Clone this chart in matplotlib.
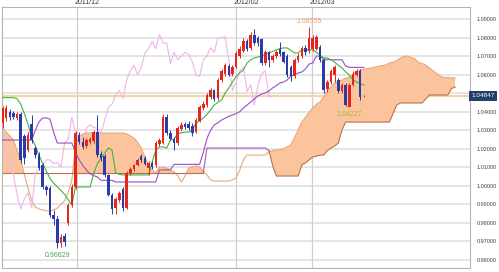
import matplotlib
matplotlib.use("Agg")
import matplotlib.pyplot as plt
import matplotlib.transforms as mtransforms
import numpy as np

plt.rcParams['font.family'] = ['Liberation Sans', 'DejaVu Sans']

# ---------------- data ----------------
opens = [1.0339, 1.0366, 1.0398, 1.0393, 1.0366, 1.0388, 1.0270, 1.0193, 1.0333, 1.0204,
         1.0166, 1.0113, 0.9995, 0.9989, 0.9843, 0.9821, 0.9692, 0.9730, 0.9800, 0.9897,
         0.9994, 1.0274, 1.0236, 1.0215, 1.0235, 1.0240, 1.0290, 1.0170, 1.0160, 1.0059,
         0.9951, 0.9880, 0.9925, 0.9985, 0.9880, 1.0070, 1.0090, 1.0115, 1.0160, 1.0150,
         1.0095, 1.0125, 1.0110, 1.0225, 1.0231, 1.0370, 1.0285, 1.0255, 1.0230, 1.0305,
         1.0335, 1.0335, 1.0325, 1.0290, 1.0350, 1.0420, 1.0435, 1.0480, 1.0515, 1.0475,
         1.0570, 1.0605, 1.0645, 1.0605, 1.0640, 1.0700, 1.0730, 1.0780, 1.0745, 1.0815,
         1.0800, 1.0790, 1.0660, 1.0720, 1.0680, 1.0700, 1.0740, 1.0720, 1.0700, 1.0640,
         1.0590, 1.0680, 1.0700, 1.0745, 1.0725, 1.0740, 1.0740, 1.0750, 1.0680, 1.0525,
         1.0560, 1.0600, 1.0570, 1.0510, 1.0544, 1.0426, 1.0545, 1.0600, 1.0620, 1.0482]
highs = [1.0431, 1.0436, 1.0415, 1.0405, 1.0400, 1.0400, 1.0280, 1.0290, 1.0382, 1.0215,
         1.0180, 1.0125, 1.0005, 1.0000, 0.9870, 0.9835, 0.9740, 0.9745, 0.9910, 1.0010,
         1.0295, 1.0290, 1.0265, 1.0260, 1.0265, 1.0300, 1.0382, 1.0190, 1.0170, 1.0065,
         0.9960, 0.9940, 0.9970, 0.9995, 1.0080, 1.0100, 1.0120, 1.0150, 1.0170, 1.0160,
         1.0135, 1.0135, 1.0240, 1.0260, 1.0390, 1.0385, 1.0300, 1.0265, 1.0325, 1.0345,
         1.0345, 1.0350, 1.0340, 1.0365, 1.0435, 1.0455, 1.0500, 1.0530, 1.0525, 1.0580,
         1.0630, 1.0665, 1.0655, 1.0650, 1.0725, 1.0755, 1.0795, 1.0790, 1.0830, 1.0845,
         1.0810, 1.0800, 1.0735, 1.0730, 1.0712, 1.0735, 1.0775, 1.0730, 1.0710, 1.0650,
         1.0690, 1.0715, 1.0755, 1.0760, 1.08555, 1.0815, 1.0815, 1.0760, 1.0690, 1.0570,
         1.0630, 1.0650, 1.0580, 1.0555, 1.0555, 1.0555, 1.0620, 1.0630, 1.0630, 1.0490]
lows = [1.0312, 1.0350, 1.0355, 1.0360, 1.0355, 1.0125, 1.0120, 1.0180, 1.0230, 1.0150,
        1.0085, 0.9985, 0.9950, 0.9830, 0.9790, 0.96629, 0.9670, 0.9675, 0.9790, 0.9885,
        0.9985, 1.0225, 1.0200, 1.0205, 1.0225, 1.0230, 1.0155, 1.0135, 1.0050, 0.9945,
        0.9850, 0.9850, 0.9915, 0.9865, 0.9875, 1.0060, 1.0080, 1.0105, 1.0130, 1.0110,
        1.0060, 1.0090, 1.0100, 1.0215, 1.0225, 1.0275, 1.0245, 1.0193, 1.0220, 1.0295,
        1.0305, 1.0300, 1.0270, 1.0285, 1.0345, 1.0410, 1.0425, 1.0470, 1.0460, 1.0465,
        1.0560, 1.0595, 1.0590, 1.0595, 1.0635, 1.0690, 1.0720, 1.0730, 1.0735, 1.0760,
        1.0755, 1.0650, 1.0650, 1.0640, 1.0670, 1.0690, 1.0700, 1.0660, 1.0585, 1.0565,
        1.0580, 1.0670, 1.0690, 1.0705, 1.0715, 1.0730, 1.0735, 1.0670, 1.0500, 1.0505,
        1.0550, 1.0560, 1.0500, 1.0500, 1.0430, 1.04227, 1.0540, 1.0590, 1.0465, 1.0478]
closes = [1.0420, 1.0420, 1.0371, 1.0371, 1.0388, 1.0140, 1.0150, 1.0274, 1.0247, 1.0166,
          1.0097, 0.9995, 0.9975, 0.9843, 0.9822, 0.9692, 0.9724, 0.9697, 0.9897, 0.9994,
          1.0285, 1.0236, 1.0210, 1.0245, 1.0255, 1.0290, 1.0166, 1.0150, 1.0059, 0.9951,
          0.9875, 0.9930, 0.9962, 0.9880, 1.0070, 1.0090, 1.0113, 1.0140, 1.0140, 1.0120,
          1.0125, 1.0100, 1.0230, 1.0250, 1.0370, 1.0285, 1.0255, 1.0230, 1.0312, 1.0330,
          1.0315, 1.0310, 1.0285, 1.0355, 1.0425, 1.0440, 1.0490, 1.0515, 1.0470, 1.0570,
          1.0620, 1.0650, 1.0600, 1.0640, 1.0715, 1.0740, 1.0780, 1.0740, 1.0815, 1.0770,
          1.0770, 1.0660, 1.0720, 1.0680, 1.0700, 1.0720, 1.0710, 1.0670, 1.0600, 1.0590,
          1.0680, 1.0700, 1.0745, 1.0720, 1.0800, 1.0800, 1.0805, 1.0680, 1.0515, 1.0560,
          1.0620, 1.0640, 1.0510, 1.0545, 1.0436, 1.0544, 1.0605, 1.0620, 1.0480, 1.04847]

tenkan = [1.0476, 1.0476, 1.0476, 1.0476, 1.0470, 1.0440, 1.0390, 1.0330, 1.0260, 1.0215,
          1.0165, 1.0120, 1.0080, 1.0040, 1.0015, 0.9995, 0.9975, 0.9955, 0.9925, 0.9897,
          0.9994, 0.9994, 0.9994, 0.9994, 0.9994, 1.0070, 1.0120, 1.0150, 1.0177, 1.0204,
          1.0193, 1.0070, 1.0062, 1.0059, 1.0059, 1.0059, 1.0059, 1.0059, 1.0059, 1.0059,
          1.0059, 1.0129, 1.0193, 1.0210, 1.0210, 1.0204, 1.0247, 1.0250, 1.0285, 1.0285,
          1.0290, 1.0290, 1.0301, 1.0339, 1.0350, 1.0366, 1.0385, 1.0409, 1.0436, 1.0450,
          1.0463, 1.0501, 1.0528, 1.0560, 1.0590, 1.0610, 1.0625, 1.0663, 1.0680, 1.0690,
          1.0695, 1.0700, 1.0710, 1.0717, 1.0725, 1.0733, 1.0740, 1.0744, 1.0744, 1.0730,
          1.0717, 1.0717, 1.0733, 1.0733, 1.0733, 1.0733, 1.0720, 1.0706, 1.0690, 1.0690,
          1.0680, 1.0668, 1.0650, 1.0636, 1.0615, 1.0598, 1.0571, 1.0560, 1.0550, 1.0545]

kijun = [1.0247, 1.0247, 1.0247, 1.0247, 1.0247, 1.0247, 1.0247, 1.0247, 1.0247, 1.0300,
         1.0345, 1.0366, 1.0366, 1.0360, 1.0290, 1.0231, 1.0231, 1.0231, 1.0231, 1.0231,
         1.0180, 1.0140, 1.0110, 1.0085, 1.0065, 1.0055, 1.0048, 1.0030, 1.0030, 1.0030,
         1.0030, 1.0021, 1.0021, 1.0021, 1.0021, 1.0021, 1.0021, 1.0021, 1.0021, 1.0021,
         1.0021, 1.0021, 1.0021, 1.0086, 1.0086, 1.0086, 1.0086, 1.0116, 1.0116, 1.0116,
         1.0116, 1.0116, 1.0116, 1.0116, 1.0116, 1.0180, 1.0255, 1.0300, 1.0328, 1.0340,
         1.0355, 1.0365, 1.0375, 1.0382, 1.0390, 1.0400, 1.0420, 1.0436, 1.0452, 1.0470,
         1.0485, 1.0495, 1.0501, 1.0512, 1.0528, 1.0540, 1.0555, 1.0560, 1.0571, 1.0593,
         1.0598, 1.0609, 1.0614, 1.0630, 1.0657, 1.0663, 1.0700, 1.0700, 1.0680, 1.0680,
         1.0680, 1.0680, 1.0680, 1.0680, 1.0646, 1.0639, 1.0639, 1.0639, 1.0639, 1.0639]

span_a = [1.0310, 1.0290, 1.0270, 1.0247, 1.0190, 1.0140, 1.0060, 0.9985, 0.9920, 0.9885,
          0.9875, 0.9870, 0.9865, 0.9865, 0.9870, 0.9880, 0.9900, 0.9920, 0.9965, 1.0032,
          1.0220, 1.0264, 1.0280, 1.0285, 1.0285, 1.0285, 1.0285, 1.0285, 1.0285, 1.0285,
          1.0285, 1.0285, 1.0285, 1.0285, 1.0280, 1.0270, 1.0258, 1.0236, 1.0204, 1.0156,
          1.0113, 1.0086, 1.0069, 1.0102, 1.0102, 1.0096, 1.0086, 1.0075, 1.0055, 1.0021,
          1.0053, 1.0096, 1.0102, 1.0107, 1.0102, 1.0080, 1.0059, 1.0032, 1.0026, 1.0026,
          1.0026, 1.0026, 1.0026, 1.0032, 1.0042, 1.0086, 1.0140, 1.0166, 1.0166, 1.0166,
          1.0166, 1.0166, 1.0166, 1.0183, 1.0190, 1.0193, 1.0193, 1.0200, 1.0210, 1.0220,
          1.0260, 1.0300, 1.0344, 1.0370, 1.0398, 1.0420, 1.0440, 1.0452, 1.0480, 1.0510,
          1.0530, 1.0555, 1.0563, 1.0571, 1.0580, 1.0587, 1.0600, 1.0615, 1.0625, 1.0630,
          1.0633, 1.0636, 1.0641, 1.0645, 1.0648, 1.0652, 1.0663, 1.0668, 1.0675, 1.0690,
          1.0698, 1.0700, 1.0692, 1.0685, 1.0665, 1.0660, 1.0650, 1.0636, 1.0620, 1.0605,
          1.0590, 1.0585, 1.0584, 1.0582, 1.0582]

span_b = [1.0069] * 56 + [
          1.0204, 1.0204, 1.0204, 1.0204, 1.0204, 1.0204, 1.0204, 1.0204, 1.0204, 1.0204,
          1.0204, 1.0204, 1.0204, 1.0204, 1.0204, 1.0204, 1.0204, 1.0190, 1.0110, 1.0053,
          1.0053, 1.0053, 1.0053, 1.0053, 1.0053, 1.0053, 1.0113, 1.0123, 1.0140, 1.0156,
          1.0160, 1.0166, 1.0166, 1.0190, 1.0204, 1.0215, 1.0231, 1.0301, 1.0344, 1.0344,
          1.0344, 1.0344, 1.0344, 1.0344, 1.0344, 1.0344, 1.0344, 1.0344, 1.0344, 1.0344,
          1.0344, 1.0390, 1.0436, 1.0447, 1.0447, 1.0447, 1.0447, 1.0447, 1.0447, 1.0447,
          1.0470, 1.0490, 1.0490, 1.0490, 1.0490, 1.0490, 1.0490, 1.0525, 1.0533]

shift = 25
date_labels = ['2011/12', '2012/02', '2012/03']
date_pos = [20.4, 64.0, 84.7]
y_ticks = [0.96, 0.97, 0.98, 0.99, 1.00, 1.01, 1.02, 1.03, 1.04, 1.05, 1.06, 1.07, 1.08, 1.09]
high_label = '1.08555'
low_label = '1.04227'
low2_label = '0.96629'
last_price = 1.04847

# ---------------- figure ----------------
W, H = 499, 272
fig = plt.figure(figsize=(W / 100, H / 100), dpi=100)
fig.patch.set_facecolor('white')
ax = fig.add_axes([2 / W, (H - 268) / H, 468 / W, 261 / H])

n = len(closes)
idx = np.arange(n)
sidx = np.arange(len(span_a))

ax.set_xlim(-0.14, 128.08)
ax.set_ylim(0.95569, 1.09647)

# grid
for yv in y_ticks:
    ax.axhline(yv, color='#dedede', lw=1.1, zorder=0)
for xp in date_pos:
    ax.axvline(xp, color='#cfcfcf', lw=0.9, zorder=0)

# current price line
ax.axhline(last_price, color='#f2d7a2', lw=1.6, zorder=1)

# cloud
sa = np.array(span_a)
sb = np.array(span_b)
ax.fill_between(sidx, sa, sb, where=sa >= sb, interpolate=True,
                color='#fcc49c', lw=0, zorder=1.5)
ax.plot(sidx, sa, color='#e9a878', lw=0.8, zorder=2)
# span B: brown, with the middle stretch shown violet as in the source
seg1 = sidx <= 55
seg2 = (sidx >= 55) & (sidx <= 73)
seg3 = sidx >= 73
ax.plot(sidx[seg1], sb[seg1], color='#b8714a', lw=0.8, zorder=2)
ax.plot(sidx[seg2], sb[seg2], color='#a65cc8', lw=0.8, zorder=2)
ax.plot(sidx[seg3], sb[seg3], color='#b8714a', lw=0.8, zorder=2)

# chikou (lagging span)
ax.plot(idx[shift:] - shift, closes[shift:], color='#f0b4ea', lw=0.8, zorder=2.5)

# tenkan / kijun
ax.plot(idx, kijun, color='#9c4cc8', lw=0.8, zorder=3)
ax.plot(idx, tenkan, color='#3fb43f', lw=0.8, zorder=3)

# candles
up_c = '#e4261c'
dn_c = '#2a3aa6'
bw = 0.7
for i in range(n):
    o, h, l, c = opens[i], highs[i], lows[i], closes[i]
    col = up_c if c >= o else dn_c
    ax.vlines(i, l, h, color=col, lw=0.7, zorder=4)
    bottom = min(o, c)
    height = max(abs(c - o), 0.00025)
    ax.add_patch(plt.Rectangle((i - bw / 2, bottom), bw, height,
                               facecolor=col, edgecolor='none', zorder=4.5))

# annotations
hi_i = int(np.argmax(highs))
lo_i = int(np.argmin(lows))
ax.text(hi_i, highs[hi_i] + 0.0012, high_label, ha='center', va='bottom',
        fontsize=5, color='#e8a468', zorder=6)
ax.text(95, 1.0386, low_label, ha='center', va='center',
        fontsize=5, color='#a9b83c', zorder=6)
ax.text(lo_i, 0.9627, low2_label, ha='center', va='center',
        fontsize=5, color='#44ad44', zorder=6)

# axes styling
for s in ax.spines.values():
    s.set_color('#b4b4b4')
    s.set_linewidth(0.8)
ax.set_xticks([])
ax.yaxis.tick_right()
ax.set_yticks(y_ticks)
ax.set_yticklabels([f'{v:.5f}' for v in y_ticks], fontsize=4, color='#444444')
ax.tick_params(axis='y', length=0, pad=5)

# date labels above
for lab, xp in zip(date_labels, date_pos):
    ax.annotate(lab, xy=(xp, 1.0), xycoords=('data', 'axes fraction'),
                xytext=(-1.5, 0.5), textcoords='offset points',
                ha='left', va='bottom', fontsize=5, color='#333333',
                annotation_clip=False)

# current price box
trans = mtransforms.blended_transform_factory(ax.transAxes, ax.transData)
ax.text(1.003, last_price, f'{last_price:.5f}', transform=trans,
        ha='left', va='center', fontsize=4.6, color='white', zorder=10,
        bbox=dict(boxstyle='square,pad=0.35', fc='#21406a', ec='none'),
        clip_on=False)

fig.savefig('out.png', dpi=100)
